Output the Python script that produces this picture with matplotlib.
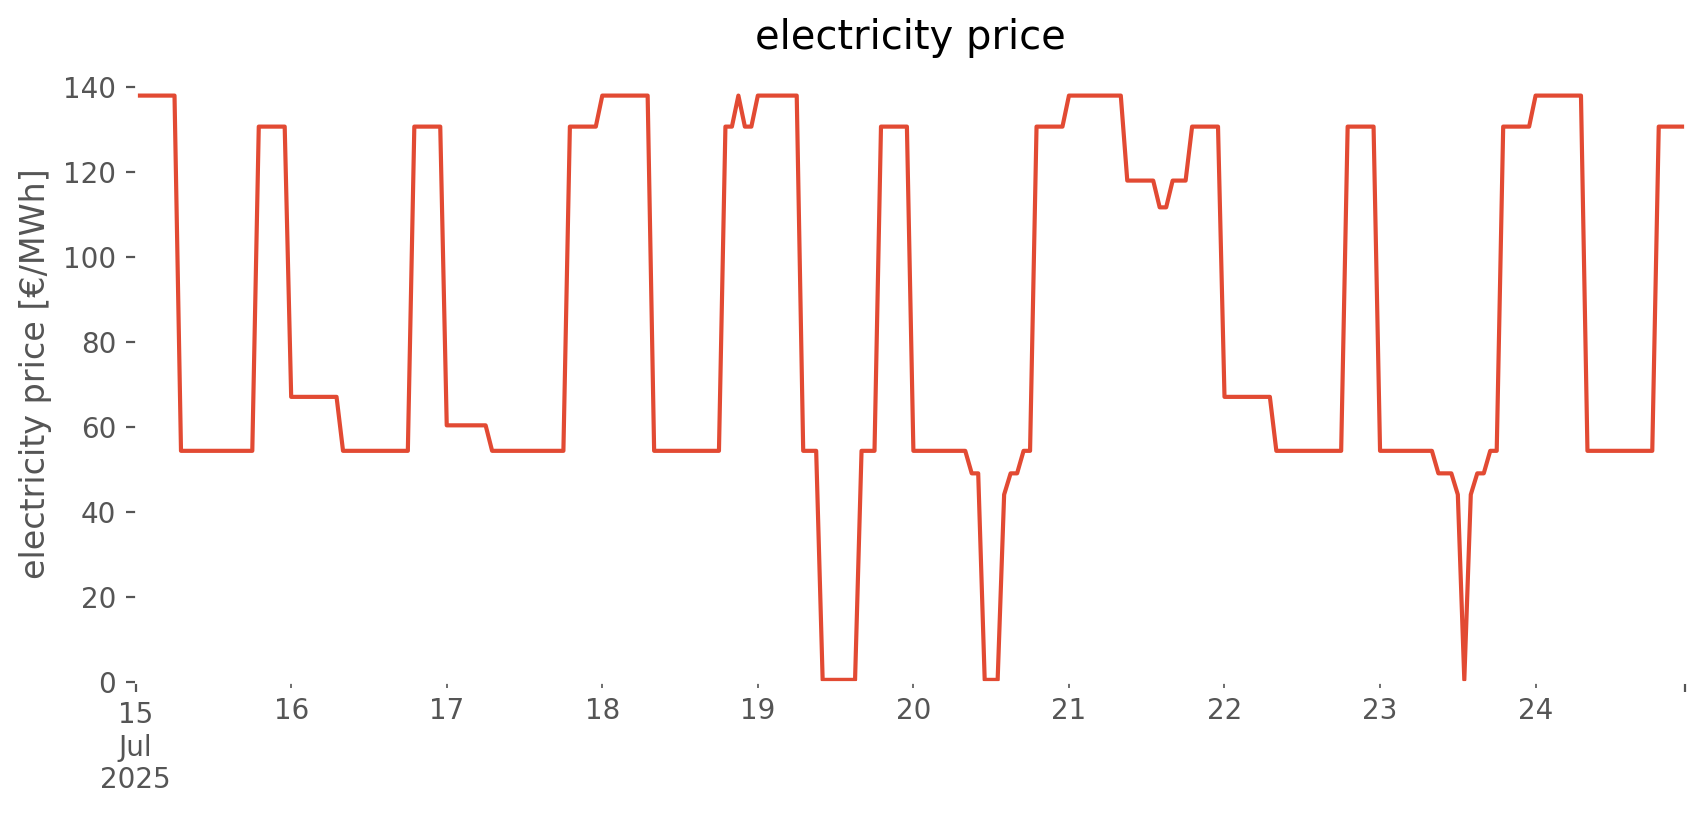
import pandas as pd
import matplotlib
matplotlib.use("Agg")
import matplotlib.pyplot as plt

plt.style.use("ggplot")

# hourly electricity price [€/MWh], one list per day (00:00 .. 23:00)
start = "2025-07-15 00:00"
jul15 = [138, 138, 138, 138, 138, 138, 138, 54.4, 54.4, 54.4, 54.4, 54.4,
         54.4, 54.4, 54.4, 54.4, 54.4, 54.4, 54.4, 130.7, 130.7, 130.7, 130.7, 130.7]
jul16 = [67.1, 67.1, 67.1, 67.1, 67.1, 67.1, 67.1, 67.1, 54.4, 54.4, 54.4, 54.4,
         54.4, 54.4, 54.4, 54.4, 54.4, 54.4, 54.4, 130.7, 130.7, 130.7, 130.7, 130.7]
jul17 = [60.4, 60.4, 60.4, 60.4, 60.4, 60.4, 60.4, 54.4, 54.4, 54.4, 54.4, 54.4,
         54.4, 54.4, 54.4, 54.4, 54.4, 54.4, 54.4, 130.7, 130.7, 130.7, 130.7, 130.7]
jul18 = [138, 138, 138, 138, 138, 138, 138, 138, 54.4, 54.4, 54.4, 54.4,
         54.4, 54.4, 54.4, 54.4, 54.4, 54.4, 54.4, 130.7, 130.7, 138, 130.7, 130.7]
jul19 = [138, 138, 138, 138, 138, 138, 138, 54.4, 54.4, 54.4, 0.5, 0.5,
         0.5, 0.5, 0.5, 0.5, 54.4, 54.4, 54.4, 130.7, 130.7, 130.7, 130.7, 130.7]
jul20 = [54.4, 54.4, 54.4, 54.4, 54.4, 54.4, 54.4, 54.4, 54.4, 49.1, 49.1, 0.5,
         0.5, 0.5, 44.1, 49.1, 49.1, 54.4, 54.4, 130.7, 130.7, 130.7, 130.7, 130.7]
jul21 = [138, 138, 138, 138, 138, 138, 138, 138, 138, 118, 118, 118,
         118, 118, 111.7, 111.7, 118, 118, 118, 130.7, 130.7, 130.7, 130.7, 130.7]
jul22 = [67.1, 67.1, 67.1, 67.1, 67.1, 67.1, 67.1, 67.1, 54.4, 54.4, 54.4, 54.4,
         54.4, 54.4, 54.4, 54.4, 54.4, 54.4, 54.4, 130.7, 130.7, 130.7, 130.7, 130.7]
jul23 = [54.4, 54.4, 54.4, 54.4, 54.4, 54.4, 54.4, 54.4, 54.4, 49.1, 49.1, 49.1,
         44.1, 0.5, 44.1, 49.1, 49.1, 54.4, 54.4, 130.7, 130.7, 130.7, 130.7, 130.7]
jul24 = [138, 138, 138, 138, 138, 138, 138, 138, 54.4, 54.4, 54.4, 54.4,
         54.4, 54.4, 54.4, 54.4, 54.4, 54.4, 54.4, 130.7, 130.7, 130.7, 130.7, 130.7]

values = jul15 + jul16 + jul17 + jul18 + jul19 + jul20 + jul21 + jul22 + jul23 + jul24
prices = pd.Series(values, index=pd.date_range(start, periods=len(values), freq="h"))

fig = plt.figure(figsize=(8.53, 4.075), dpi=200)
ax = fig.add_axes([0.0795, 0.1632, 0.908, 0.756])
prices.plot(ax=ax)

ax.set_facecolor("white")
ax.grid(False)
ax.set_ylim(0, 145)
ax.set_title("electricity price")
ax.set_ylabel("electricity price [€/MWh]")
ax.set_xlabel("")

fig.savefig("out.png", dpi=200)
